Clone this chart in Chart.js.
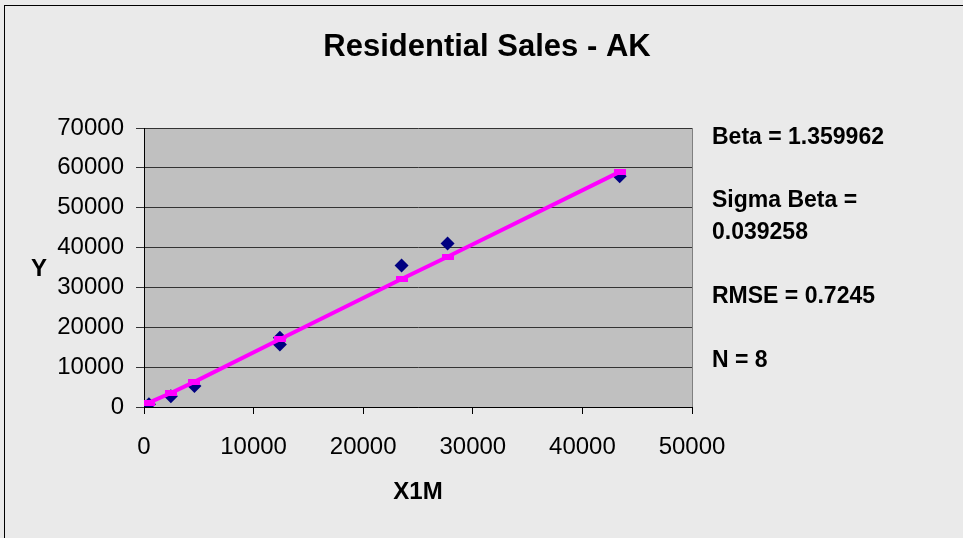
<!DOCTYPE html>
<html>
<head>
<meta charset="utf-8">
<script src="https://cdn.jsdelivr.net/npm/chart.js@4/dist/chart.umd.min.js"></script>
<style>
  html, body { margin: 0; padding: 0; background: #eaeaea; }
  #wrap { width: 963px; height: 538px; position: relative; }
</style>
</head>
<body>
<div id="wrap"><canvas id="chart" width="963" height="538"></canvas></div>
<script>
const xValues = [450, 2450, 4600, 12400, 12400, 23500, 27700, 43400];
const yValues = [700, 2700, 5300, 15700, 17400, 35500, 41000, 57900];
const fitValues = [1100, 3500, 6300, 17000, 17000, 32100, 37700, 59000];
const notes = ["Beta = 1.359962", "Sigma Beta =", "0.039258", "RMSE = 0.7245", "N = 8"];
const noteBaselines = [144, 207, 239, 303, 367];

const FONT = "'Liberation Sans', Arial, sans-serif";

// little magenta bar used as the fitted-line marker
const bar = document.createElement("canvas");
bar.width = 12; bar.height = 6;
const bctx = bar.getContext("2d");
bctx.fillStyle = "#ff00ff";
bctx.fillRect(0, 0, 12, 6);

const frame = {
  id: "frame",
  beforeDraw(chart) {
    const { ctx, chartArea: a } = chart;
    ctx.save();
    ctx.fillStyle = "#eaeaea";
    ctx.fillRect(0, 0, chart.width, chart.height);
    ctx.strokeStyle = "#000";
    ctx.lineWidth = 1;
    ctx.strokeRect(4.5, 5.5, 2000, 2000);
    ctx.fillStyle = "#c0c0c0";
    ctx.fillRect(a.left, a.top, a.right - a.left, a.bottom - a.top);
    ctx.restore();
  },
  afterDraw(chart) {
    const { ctx, chartArea: a } = chart;
    ctx.save();
    ctx.strokeStyle = "#808080";
    ctx.lineWidth = 1;
    ctx.beginPath();
    ctx.moveTo(Math.round(a.right) + 0.5, a.top);
    ctx.lineTo(Math.round(a.right) + 0.5, a.bottom);
    ctx.stroke();

    ctx.fillStyle = "#000";
    ctx.textBaseline = "alphabetic";
    ctx.textAlign = "center";
    ctx.font = "bold 31px " + FONT;
    ctx.fillText("Residential Sales - AK", 487, 56);
    ctx.font = "bold 24px " + FONT;
    ctx.fillText("Y", 39, 276);
    ctx.fillText("X1M", 418, 499);

    ctx.textAlign = "left";
    ctx.font = "bold 23px " + FONT;
    notes.forEach((t, i) => ctx.fillText(t, 712, noteBaselines[i]));
    ctx.restore();
  }
};

new Chart(document.getElementById("chart"), {
  type: "scatter",
  data: {
    datasets: [
      {
        label: "Fit",
        data: xValues.map((x, i) => ({ x, y: fitValues[i] })),
        showLine: true,
        borderColor: "#ff00ff",
        borderWidth: 4,
        pointStyle: bar,
        pointRadius: 6
      },
      {
        label: "Y",
        data: xValues.map((x, i) => ({ x, y: yValues[i] })),
        backgroundColor: "#000080",
        borderColor: "#000080",
        pointStyle: "rectRot",
        pointRadius: 7,
        borderWidth: 0
      }
    ]
  },
  options: {
    responsive: false,
    animation: false,
    layout: { padding: { left: 0, top: 128, right: 271, bottom: 0 } },
    plugins: { legend: { display: false }, tooltip: { enabled: false } },
    scales: {
      x: {
        type: "linear",
        min: 0, max: 50000,
        afterFit(s) { s.height = 131; },
        ticks: { stepSize: 10000, color: "#000", padding: 19, font: { family: FONT, size: 24 }, callback: v => String(v) },
        grid: { drawOnChartArea: false, drawTicks: true, tickLength: 7, color: "#000" },
        border: { color: "#000", width: 1 }
      },
      y: {
        min: 0, max: 70000,
        afterFit(s) { s.width = 144; },
        ticks: { stepSize: 10000, color: "#000", padding: 12, font: { family: FONT, size: 24 }, callback: v => String(v) },
        grid: { color: "#333333", lineWidth: 1, tickLength: 8, drawTicks: true },
        border: { color: "#000", width: 1 }
      }
    }
  },
  plugins: [frame]
});
</script>
</body>
</html>
